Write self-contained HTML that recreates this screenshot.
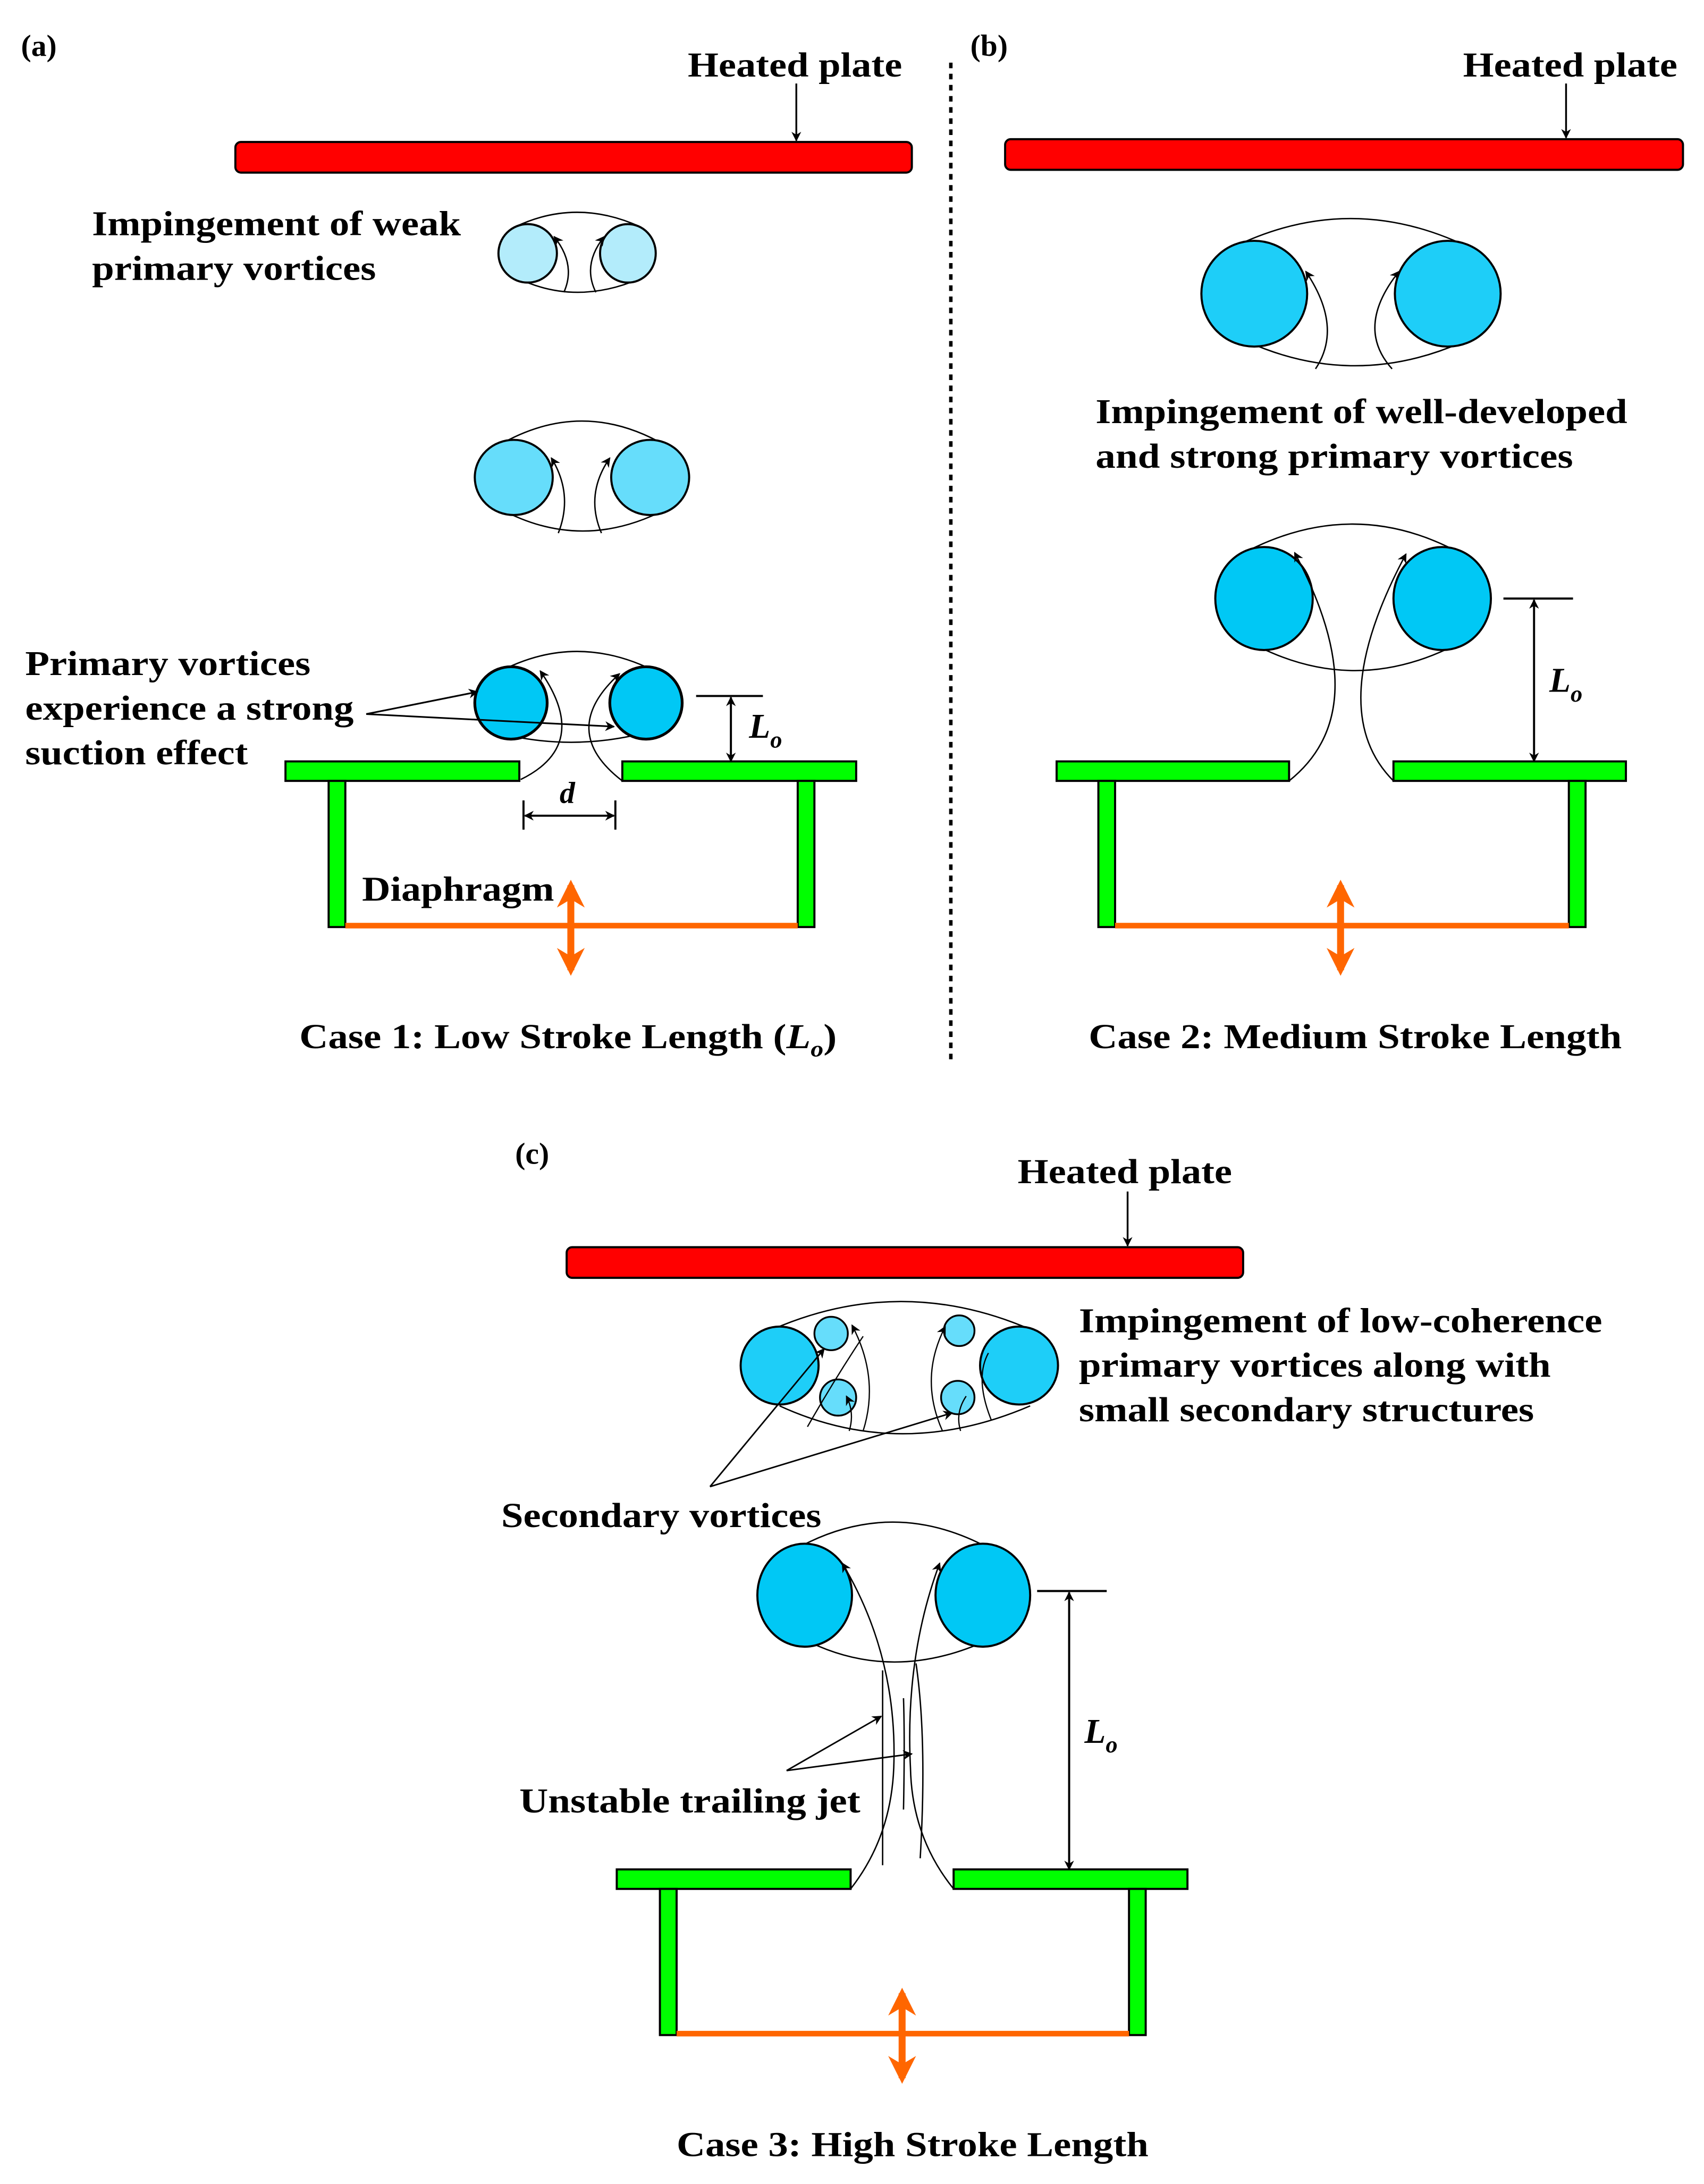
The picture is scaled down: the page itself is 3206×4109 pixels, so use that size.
<!DOCTYPE html>
<html><head><meta charset="utf-8"><style>
html,body{margin:0;padding:0;background:#fff}
svg{display:block}
text{font-family:"Liberation Serif",serif;font-weight:bold;fill:#000}
</style></head><body>
<svg width="3206" height="4109" viewBox="0 0 1224 1569" xmlns="http://www.w3.org/2000/svg">
<defs>
<marker id="ah" viewBox="0 0 10 10" refX="9" refY="5" markerWidth="7" markerHeight="7" orient="auto-start-reverse" markerUnits="userSpaceOnUse"><path d="M0,0 L10,5 L0,10 L3,5 z" fill="#000"/></marker>
<marker id="oh" viewBox="0 0 10 10" refX="8" refY="5" markerWidth="4" markerHeight="4" orient="auto-start-reverse"><path d="M0,0 L10,5 L0,10 L3,5 z" fill="#ff6600"/></marker>
</defs>
<g fill="none" stroke="#000">
<line x1="683" y1="45" x2="683" y2="765" stroke-width="2.5" stroke-dasharray="4,4"/>

<!-- ===== (a) ===== -->
<rect x="169" y="102" width="486" height="22" rx="4" fill="#ff0000" stroke-width="1.5"/>
<line x1="572" y1="60" x2="572" y2="101" stroke-width="1.3" marker-end="url(#ah)"/>
<!-- pair 1 -->
<path d="M370,163 Q414,142 460,163" stroke-width="1"/>
<path d="M372,200 Q414,220 460,200" stroke-width="1"/>
<ellipse cx="379" cy="182" rx="21" ry="21" fill="#b3ecfb" stroke-width="1.5"/>
<ellipse cx="451" cy="182" rx="20" ry="21" fill="#b3ecfb" stroke-width="1.5"/>
<path d="M405,210 Q414,190 398,170" stroke-width="1" marker-end="url(#ah)"/>
<path d="M428,210 Q418,190 434,170" stroke-width="1" marker-end="url(#ah)"/>
<!-- pair 2 -->
<path d="M358,320 Q418,285 478,320" stroke-width="1"/>
<path d="M360,366 Q418,397 478,366" stroke-width="1"/>
<ellipse cx="369" cy="343" rx="28" ry="27" fill="#66ddfb" stroke-width="1.5"/>
<ellipse cx="467" cy="343" rx="28" ry="27" fill="#66ddfb" stroke-width="1.5"/>
<path d="M401,383 Q412,355 396,329" stroke-width="1" marker-end="url(#ah)"/>
<path d="M432,383 Q420,355 438,329" stroke-width="1" marker-end="url(#ah)"/>
<!-- pair 3 -->
<path d="M356,484 Q414,452 474,484" stroke-width="1"/>
<path d="M352,525 Q412,542 472,524" stroke-width="1"/>
<ellipse cx="367" cy="505" rx="26" ry="26" fill="#00c8f5" stroke-width="2"/>
<ellipse cx="464" cy="505" rx="26" ry="26" fill="#00c8f5" stroke-width="2"/>
<path d="M374,560 Q425,535 388,482" stroke-width="1" marker-end="url(#ah)"/>
<path d="M447,561 Q400,525 445,484" stroke-width="1" marker-end="url(#ah)"/>
<line x1="263" y1="513" x2="343" y2="497" stroke-width="1.2" marker-end="url(#ah)"/>
<line x1="263" y1="513" x2="441" y2="522" stroke-width="1.2" marker-end="url(#ah)"/>
<line x1="500" y1="500" x2="548" y2="500" stroke-width="1.5"/>
<line x1="525" y1="501" x2="525" y2="547" stroke-width="1.5" marker-start="url(#ah)" marker-end="url(#ah)"/>
<line x1="376" y1="575" x2="376" y2="596" stroke-width="1.5"/>
<line x1="442" y1="575" x2="442" y2="596" stroke-width="1.5"/>
<line x1="377" y1="586" x2="441" y2="586" stroke-width="1.5" marker-start="url(#ah)" marker-end="url(#ah)"/>
<rect x="205" y="547" width="168" height="14" fill="#00ff00" stroke-width="1.5"/>
<rect x="447" y="547" width="168" height="14" fill="#00ff00" stroke-width="1.5"/>
<rect x="236" y="561" width="12" height="105" fill="#00ff00" stroke-width="1.5"/>
<rect x="573" y="561" width="12" height="105" fill="#00ff00" stroke-width="1.5"/>
<line x1="248" y1="665" x2="573" y2="665" stroke="#ff6600" stroke-width="4"/>
<line x1="410" y1="636" x2="410" y2="697" stroke="#ff6600" stroke-width="5" marker-start="url(#oh)" marker-end="url(#oh)"/>

<!-- ===== (b) ===== -->
<rect x="722" y="100" width="487" height="22" rx="4" fill="#ff0000" stroke-width="1.5"/>
<line x1="1125" y1="60" x2="1125" y2="99" stroke-width="1.3" marker-end="url(#ah)"/>
<path d="M885,178 Q972,135 1060,180" stroke-width="1"/>
<path d="M895,245 Q972,280 1050,246" stroke-width="1"/>
<ellipse cx="901" cy="211" rx="38" ry="38" fill="#1ecef8" stroke-width="1.5"/>
<ellipse cx="1040" cy="211" rx="38" ry="38" fill="#1ecef8" stroke-width="1.5"/>
<path d="M945,265 Q965,235 938,195" stroke-width="1" marker-end="url(#ah)"/>
<path d="M1000,265 Q973,235 1005,195" stroke-width="1" marker-end="url(#ah)"/>
<path d="M892,398 Q972,355 1050,398" stroke-width="1"/>
<path d="M905,465 Q972,498 1040,466" stroke-width="1"/>
<ellipse cx="908" cy="430" rx="35" ry="37" fill="#00c8f5" stroke-width="1.5"/>
<ellipse cx="1036" cy="430" rx="35" ry="37" fill="#00c8f5" stroke-width="1.5"/>
<path d="M926,561 Q990,510 930,397" stroke-width="1" marker-end="url(#ah)"/>
<path d="M1001,561 Q950,510 1010,398" stroke-width="1" marker-end="url(#ah)"/>
<line x1="1080" y1="430" x2="1130" y2="430" stroke-width="1.5"/>
<line x1="1102" y1="431" x2="1102" y2="547" stroke-width="1.5" marker-start="url(#ah)" marker-end="url(#ah)"/>
<rect x="759" y="547" width="167" height="14" fill="#00ff00" stroke-width="1.5"/>
<rect x="1001" y="547" width="167" height="14" fill="#00ff00" stroke-width="1.5"/>
<rect x="789" y="561" width="12" height="105" fill="#00ff00" stroke-width="1.5"/>
<rect x="1127" y="561" width="12" height="105" fill="#00ff00" stroke-width="1.5"/>
<line x1="801" y1="665" x2="1127" y2="665" stroke="#ff6600" stroke-width="4"/>
<line x1="963" y1="636" x2="963" y2="697" stroke="#ff6600" stroke-width="5" marker-start="url(#oh)" marker-end="url(#oh)"/>

<!-- ===== (c) ===== -->
<rect x="407" y="896" width="486" height="22" rx="4" fill="#ff0000" stroke-width="1.5"/>
<line x1="810" y1="856" x2="810" y2="895" stroke-width="1.3" marker-end="url(#ah)"/>
<path d="M555,955 Q647,915 740,955" stroke-width="1"/>
<path d="M560,1010 Q647,1050 740,1010" stroke-width="1"/>
<ellipse cx="560" cy="981" rx="28" ry="28" fill="#1ecef8" stroke-width="1.5"/>
<ellipse cx="732" cy="981" rx="28" ry="28" fill="#1ecef8" stroke-width="1.5"/>
<circle cx="597" cy="958" r="12" fill="#66ddfb" stroke-width="1.3"/>
<circle cx="602" cy="1004" r="13" fill="#66ddfb" stroke-width="1.3"/>
<circle cx="689" cy="956" r="11" fill="#66ddfb" stroke-width="1.3"/>
<circle cx="688" cy="1004" r="12" fill="#66ddfb" stroke-width="1.3"/>
<path d="M580,1025 Q600,990 620,960" stroke-width="0.9"/>
<path d="M620,1028 Q632,990 612,952" stroke-width="0.9" marker-end="url(#ah)"/>
<path d="M610,1028 Q614,1015 608,1003" stroke-width="0.9" marker-end="url(#ah)"/>
<path d="M677,1028 Q660,990 679,953" stroke-width="0.9" marker-end="url(#ah)"/>
<path d="M690,1028 Q686,1015 694,1003" stroke-width="0.9"/>
<path d="M712,1020 Q700,990 710,972" stroke-width="0.9"/>
<line x1="510" y1="1068" x2="592" y2="969" stroke-width="1.1" marker-end="url(#ah)"/>
<line x1="510" y1="1068" x2="684" y2="1015" stroke-width="1.1" marker-end="url(#ah)"/>
<path d="M573,1112 Q641,1075 710,1112" stroke-width="1"/>
<path d="M578,1178 Q641,1210 710,1178" stroke-width="1"/>
<ellipse cx="578" cy="1146" rx="34" ry="37" fill="#00c8f5" stroke-width="1.5"/>
<ellipse cx="706" cy="1146" rx="34" ry="37" fill="#00c8f5" stroke-width="1.5"/>
<path d="M611,1357 Q640,1320 642,1270 Q645,1190 605,1123" stroke-width="1" marker-end="url(#ah)"/>
<path d="M685,1357 Q655,1320 654,1270 Q650,1190 675,1123" stroke-width="1" marker-end="url(#ah)"/>
<path d="M634,1340 L634,1200" stroke-width="1"/>
<path d="M661,1335 Q666,1250 658,1195" stroke-width="1"/>
<path d="M649,1220 Q650,1250 649,1300" stroke-width="1"/>
<line x1="565" y1="1272" x2="633" y2="1233" stroke-width="1.1" marker-end="url(#ah)"/>
<line x1="565" y1="1272" x2="655" y2="1260" stroke-width="1.1" marker-end="url(#ah)"/>
<line x1="745" y1="1143" x2="795" y2="1143" stroke-width="1.5"/>
<line x1="768" y1="1144" x2="768" y2="1343" stroke-width="1.5" marker-start="url(#ah)" marker-end="url(#ah)"/>
<rect x="443" y="1343" width="168" height="14" fill="#00ff00" stroke-width="1.5"/>
<rect x="685" y="1343" width="168" height="14" fill="#00ff00" stroke-width="1.5"/>
<rect x="474" y="1357" width="12" height="105" fill="#00ff00" stroke-width="1.5"/>
<rect x="811" y="1357" width="12" height="105" fill="#00ff00" stroke-width="1.5"/>
<line x1="486" y1="1461" x2="811" y2="1461" stroke="#ff6600" stroke-width="4"/>
<line x1="648" y1="1432" x2="648" y2="1493" stroke="#ff6600" stroke-width="5" marker-start="url(#oh)" marker-end="url(#oh)"/>
</g>

<g font-size="25">
<text x="15" y="40" font-size="22">(a)</text>
<text x="494" y="55" textLength="154" lengthAdjust="spacingAndGlyphs">Heated plate</text>
<text x="66" y="169" textLength="265" lengthAdjust="spacingAndGlyphs">Impingement of weak</text>
<text x="66" y="201" textLength="204" lengthAdjust="spacingAndGlyphs">primary vortices</text>
<text x="18" y="485" textLength="205" lengthAdjust="spacingAndGlyphs">Primary vortices</text>
<text x="18" y="517" textLength="236" lengthAdjust="spacingAndGlyphs">experience a strong</text>
<text x="18" y="549" textLength="160" lengthAdjust="spacingAndGlyphs">suction effect</text>
<text x="538" y="530" font-style="italic">L<tspan font-size="17" dy="7">o</tspan></text>
<text x="402" y="577" font-style="italic" font-size="22">d</text>
<text x="260" y="647" textLength="138" lengthAdjust="spacingAndGlyphs">Diaphragm</text>
<text x="215" y="753" textLength="386" lengthAdjust="spacingAndGlyphs">Case 1: Low Stroke Length (<tspan font-style="italic">L</tspan><tspan font-style="italic" font-size="16" dy="6">o</tspan><tspan dy="-6">)</tspan></text>

<text x="697" y="40" font-size="22">(b)</text>
<text x="1051" y="55" textLength="154" lengthAdjust="spacingAndGlyphs">Heated plate</text>
<text x="787" y="304" textLength="382" lengthAdjust="spacingAndGlyphs">Impingement of well-developed</text>
<text x="787" y="336" textLength="343" lengthAdjust="spacingAndGlyphs">and strong primary vortices</text>
<text x="1113" y="497" font-style="italic">L<tspan font-size="17" dy="7">o</tspan></text>
<text x="782" y="753" textLength="383" lengthAdjust="spacingAndGlyphs">Case 2: Medium Stroke Length</text>

<text x="370" y="836" font-size="22">(c)</text>
<text x="731" y="850" textLength="154" lengthAdjust="spacingAndGlyphs">Heated plate</text>
<text x="775" y="957" textLength="376" lengthAdjust="spacingAndGlyphs">Impingement of low-coherence</text>
<text x="775" y="989" textLength="339" lengthAdjust="spacingAndGlyphs">primary vortices along with</text>
<text x="775" y="1021" textLength="327" lengthAdjust="spacingAndGlyphs">small secondary structures</text>
<text x="360" y="1097" textLength="230" lengthAdjust="spacingAndGlyphs">Secondary vortices</text>
<text x="779" y="1252" font-style="italic">L<tspan font-size="17" dy="7">o</tspan></text>
<text x="373" y="1302" textLength="245" lengthAdjust="spacingAndGlyphs">Unstable trailing jet</text>
<text x="486" y="1549" textLength="339" lengthAdjust="spacingAndGlyphs">Case 3: High Stroke Length</text>
</g>
</svg>
</body></html>
